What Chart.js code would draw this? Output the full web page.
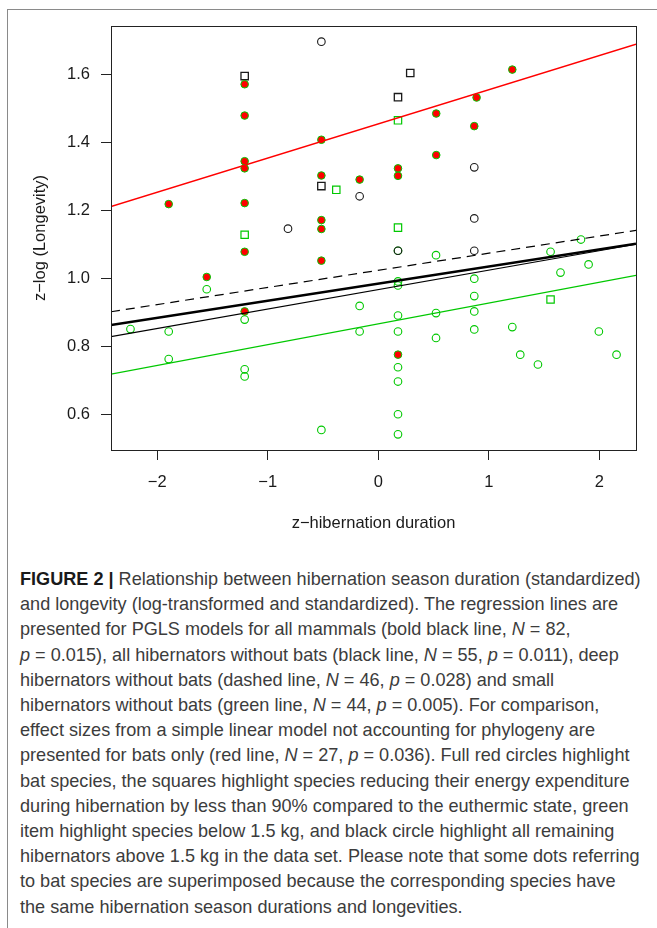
<!DOCTYPE html>
<html><head><meta charset="utf-8">
<script src="https://cdn.jsdelivr.net/npm/chart.js@4.4.0/dist/chart.umd.min.js"></script>
<style>
html,body{margin:0;padding:0;background:#fff;}
body{width:657px;height:928px;position:relative;overflow:hidden;font-family:"Liberation Sans",Arial,sans-serif;}
#frame{position:absolute;left:7px;top:9px;width:700px;height:1000px;border-left:1px solid #8a8a8a;border-top:1px solid #8a8a8a;}
#wrap{position:absolute;left:0;top:0;width:657px;height:560px;}
#cap{position:absolute;left:20px;top:567px;font-size:18.1px;line-height:25.2px;color:#3c3c3c;white-space:nowrap;letter-spacing:0;}
#cap b{color:#1a1a1a}
</style></head>
<body>
<div id="frame"></div>
<div id="wrap"><canvas id="c" width="657" height="560"></canvas></div>
<div id="cap">
<div><b>FIGURE 2 |</b> Relationship between hibernation season duration (standardized)</div>
<div>and longevity (log-transformed and standardized). The regression lines are</div>
<div>presented for PGLS models for all mammals (bold black line, <i>N</i> = 82,</div>
<div><i>p</i> = 0.015), all hibernators without bats (black line, <i>N</i> = 55, <i>p</i> = 0.011), deep</div>
<div>hibernators without bats (dashed line, <i>N</i> = 46, <i>p</i> = 0.028) and small</div>
<div>hibernators without bats (green line, <i>N</i> = 44, <i>p</i> = 0.005). For comparison,</div>
<div>effect sizes from a simple linear model not accounting for phylogeny are</div>
<div>presented for bats only (red line, <i>N</i> = 27, <i>p</i> = 0.036). Full red circles highlight</div>
<div>bat species, the squares highlight species reducing their energy expenditure</div>
<div>during hibernation by less than 90% compared to the euthermic state, green</div>
<div>item highlight species below 1.5 kg, and black circle highlight all remaining</div>
<div>hibernators above 1.5 kg in the data set. Please note that some dots referring</div>
<div>to bat species are superimposed because the corresponding species have</div>
<div>the same hibernation season durations and longevities.</div>
</div>
<script>
// ---- data ----
const xTicks = [-2, -1, 0, 1, 2];
const yTicks = [0.6, 0.8, 1.0, 1.2, 1.4, 1.6];

// bats (full red circles)
const batX = [-1.896,-1.552,-1.209,-1.209,-1.209,-1.209,-1.209,-1.209,-1.209,-0.515,-0.515,-0.515,-0.515,-0.515,-0.169,0.178,0.178,0.178,0.524,0.524,0.868,0.889,1.212];
const batY = [1.219,1.005,1.571,1.479,1.345,1.324,1.222,1.079,0.904,1.408,1.303,1.172,1.146,1.053,1.291,1.324,1.302,0.777,1.485,1.363,1.448,1.532,1.614];

// black circles (hibernators above 1.5 kg)
const bigCircX = [-0.515,-0.817,-0.169,0.178,0.868,0.868,0.868];
const bigCircY = [1.696,1.147,1.242,1.082,1.327,1.177,1.082];

// black squares (shallow, above 1.5 kg)
const bigSqX = [-1.209,-0.515,0.178,0.289];
const bigSqY = [1.595,1.272,1.533,1.604];

// green squares (shallow, below 1.5 kg)
const smallSqX = [-1.209,-0.380,0.178,0.178,1.558];
const smallSqY = [1.129,1.261,1.465,1.150,0.939];

// green circles (below 1.5 kg)
const smallCircX = [-2.242,-1.896,-1.896,-1.552,-1.209,-1.209,-1.209,-0.515,-0.169,-0.169,0.178,0.178,0.178,0.178,0.178,0.178,0.178,0.178,0.178,0.522,0.522,0.522,0.868,0.868,0.868,0.868,1.212,1.284,1.444,1.558,1.648,1.833,1.902,1.995,2.155];
const smallCircY = [0.852,0.845,0.764,0.969,0.880,0.734,0.713,0.556,0.920,0.845,1.082,0.992,0.980,0.892,0.845,0.740,0.698,0.602,0.543,1.069,0.899,0.826,1.000,0.949,0.904,0.851,0.858,0.777,0.748,1.079,1.018,1.115,1.042,0.845,0.777];

// regression lines (intercept, slope)
const lineNames = ['bats (LM)', 'all mammals', 'hibernators w/o bats', 'deep hibernators w/o bats', 'small hibernators w/o bats'];
const lineIntercepts = [1.4545, 0.9856, 0.9680, 1.0246, 0.8675];
const lineSlopes = [0.1004, 0.0503, 0.0571, 0.0503, 0.0610];

const X_RANGE = [-2.418, 2.331];
const Y_RANGE = [0.497, 1.742];

// ---- build ----
const GREEN = '#00C800', RED = '#FF0000', BLACK = '#1a1a1a';
const pts = (xs, ys) => xs.map((x, i) => ({x, y: ys[i]}));
const lineStyles = [
  {color: RED, width: 1.4, dash: []},
  {color: '#000', width: 2.6, dash: []},
  {color: '#000', width: 1.1, dash: []},
  {color: '#000', width: 1.2, dash: [9, 6]},
  {color: GREEN, width: 1.2, dash: []}
];
const lineSets = lineNames.map((name, k) => ({
  type: 'scatter', label: name, showLine: true,
  data: X_RANGE.map(x => ({x, y: lineIntercepts[k] + lineSlopes[k] * x})),
  borderColor: lineStyles[k].color, borderWidth: lineStyles[k].width, borderDash: lineStyles[k].dash,
  pointRadius: 0, pointHoverRadius: 0, fill: false
}));

const R_CIRC = 3.8, R_SQ = 5.2;
const pointSets = [
  {label: 'bats', data: pts(batX, batY), pointStyle: 'circle', pointRadius: R_CIRC, backgroundColor: RED, borderColor: GREEN, borderWidth: 1},
  {label: 'black squares', data: pts(bigSqX, bigSqY), pointStyle: 'rect', pointRadius: R_SQ, backgroundColor: 'rgba(0,0,0,0)', borderColor: BLACK, borderWidth: 1.3},
  {label: 'black circles', data: pts(bigCircX, bigCircY), pointStyle: 'circle', pointRadius: R_CIRC, backgroundColor: 'rgba(0,0,0,0)', borderColor: BLACK, borderWidth: 1.1},
  {label: 'green squares', data: pts(smallSqX, smallSqY), pointStyle: 'rect', pointRadius: R_SQ, backgroundColor: 'rgba(0,0,0,0)', borderColor: GREEN, borderWidth: 1.2},
  {label: 'green circles', data: pts(smallCircX, smallCircY), pointStyle: 'circle', pointRadius: R_CIRC, backgroundColor: 'rgba(0,0,0,0)', borderColor: GREEN, borderWidth: 1.1}
].map(d => Object.assign({type: 'scatter', showLine: false, pointHoverRadius: d.pointRadius}, d));

const boxPlugin = {
  id: 'box',
  afterDraw(chart) {
    const a = chart.chartArea, ctx = chart.ctx;
    ctx.save();
    ctx.strokeStyle = '#222';
    ctx.lineWidth = 1;
    ctx.strokeRect(Math.round(a.left) + 0.5, Math.round(a.top) + 0.5, Math.round(a.right - a.left), Math.round(a.bottom - a.top));
    ctx.restore();
  }
};

const tickFont = {family: '"Liberation Sans", Arial, sans-serif', size: 16.5};
new Chart(document.getElementById('c'), {
  type: 'scatter',
  data: {datasets: [...lineSets, ...pointSets]},
  options: {
    responsive: false, animation: false, devicePixelRatio: 1,
    layout: {padding: {left: 0, top: 26, right: 21, bottom: 0}},
    plugins: {legend: {display: false}, tooltip: {enabled: false}},
    scales: {
      x: {
        type: 'linear', min: X_RANGE[0], max: X_RANGE[1],
        afterBuildTicks: s => { s.ticks = xTicks.map(v => ({value: v})); },
        afterFit: s => { s.height = 110; },
        ticks: {font: tickFont, color: '#1a1a1a', padding: 13, maxRotation: 0,
          callback: v => (v < 0 ? '\u2212' + Math.abs(v) : String(v))},
        grid: {display: true, drawOnChartArea: false, drawTicks: true, tickLength: 10, color: '#222', lineWidth: 1},
        border: {display: false},
        title: {display: true, text: 'z\u2212hibernation duration', font: tickFont, color: '#1a1a1a', padding: {top: 0, bottom: 27}}
      },
      y: {
        type: 'linear', min: Y_RANGE[0], max: Y_RANGE[1],
        afterBuildTicks: s => { s.ticks = yTicks.map(v => ({value: v})); },
        afterFit: s => { s.width = 111; },
        ticks: {font: tickFont, color: '#1a1a1a', padding: 11, callback: v => v.toFixed(1)},
        grid: {display: true, drawOnChartArea: false, drawTicks: true, tickLength: 10, color: '#222', lineWidth: 1},
        border: {display: false},
        title: {display: true, text: 'z\u2212log (Longevity)', font: tickFont, color: '#1a1a1a', padding: {top: 31, bottom: 0}}
      }
    }
  },
  plugins: [boxPlugin]
});
</script>
</body></html>
